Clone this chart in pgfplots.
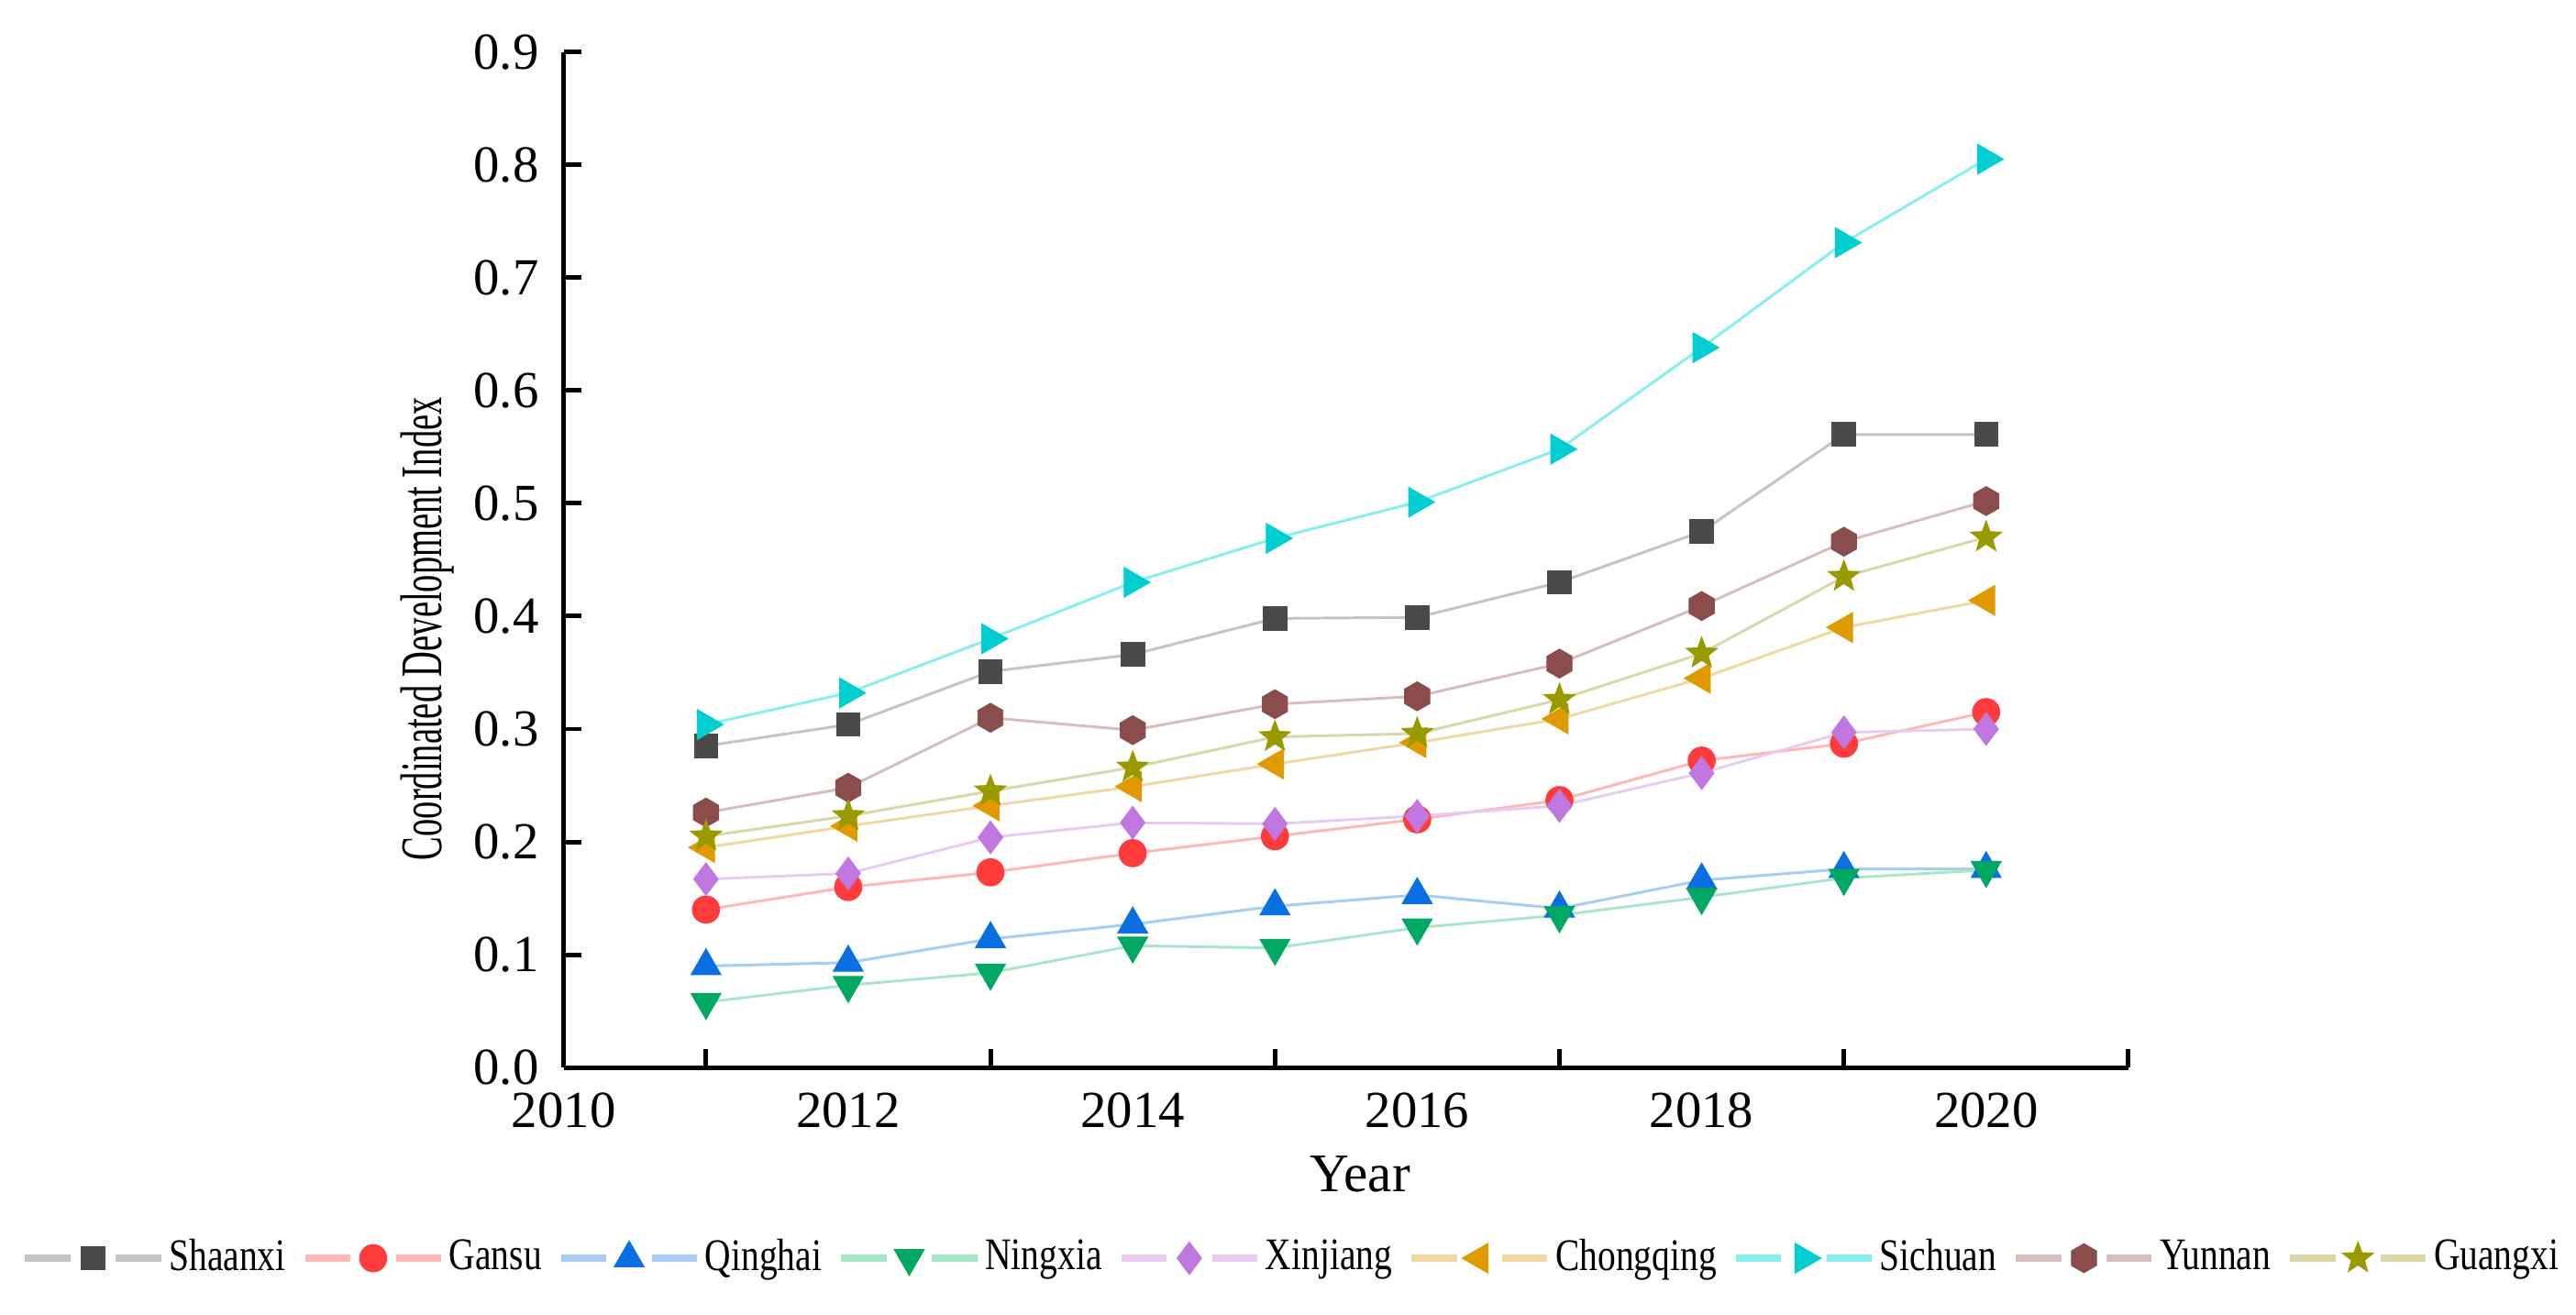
\documentclass[border=0pt]{standalone}
\usepackage{fontspec}
\setmainfont{Liberation Serif}
\newfontfamily\legfont{Liberation Serif}[FakeStretch=0.8]
\newfontfamily\ylabfont{Liberation Serif}[FakeStretch=0.6]
\usepackage{pgfplots}
\usepackage{pgfplotstable}
\pgfplotsset{compat=1.18}
\usetikzlibrary{plotmarks}

% filled five-point star and hexagon marks
\pgfdeclareplotmark{fstar}{%
  \pgfpathmoveto{\pgfpointpolar{90}{\pgfplotmarksize}}%
  \pgfpathlineto{\pgfpointpolar{126}{0.42\pgfplotmarksize}}%
  \pgfpathlineto{\pgfpointpolar{162}{\pgfplotmarksize}}%
  \pgfpathlineto{\pgfpointpolar{198}{0.42\pgfplotmarksize}}%
  \pgfpathlineto{\pgfpointpolar{234}{\pgfplotmarksize}}%
  \pgfpathlineto{\pgfpointpolar{270}{0.42\pgfplotmarksize}}%
  \pgfpathlineto{\pgfpointpolar{306}{\pgfplotmarksize}}%
  \pgfpathlineto{\pgfpointpolar{342}{0.42\pgfplotmarksize}}%
  \pgfpathlineto{\pgfpointpolar{18}{\pgfplotmarksize}}%
  \pgfpathlineto{\pgfpointpolar{54}{0.42\pgfplotmarksize}}%
  \pgfpathclose\pgfusepathqfillstroke}
\pgfdeclareplotmark{fhex}{%
  \pgfpathmoveto{\pgfpointpolar{90}{\pgfplotmarksize}}%
  \pgfpathlineto{\pgfpointpolar{150}{\pgfplotmarksize}}%
  \pgfpathlineto{\pgfpointpolar{210}{\pgfplotmarksize}}%
  \pgfpathlineto{\pgfpointpolar{270}{\pgfplotmarksize}}%
  \pgfpathlineto{\pgfpointpolar{330}{\pgfplotmarksize}}%
  \pgfpathlineto{\pgfpointpolar{30}{\pgfplotmarksize}}%
  \pgfpathclose\pgfusepathqfillstroke}

\definecolor{shM}{HTML}{4A4A4A}\definecolor{shL}{HTML}{C4C4C4}
\definecolor{gaM}{HTML}{FF3B3B}\definecolor{gaL}{HTML}{FFB8B8}
\definecolor{qiM}{HTML}{0A6FE0}\definecolor{qiL}{HTML}{A8CDF2}
\definecolor{niM}{HTML}{00A864}\definecolor{niL}{HTML}{A8E6C8}
\definecolor{xiM}{HTML}{C078E0}\definecolor{xiL}{HTML}{E6CCF2}
\definecolor{chM}{HTML}{E09A00}\definecolor{chL}{HTML}{F2D8A0}
\definecolor{siM}{HTML}{00CED1}\definecolor{siL}{HTML}{88EEEE}
\definecolor{yuM}{HTML}{8B4C4C}\definecolor{yuL}{HTML}{D8BDBD}
\definecolor{guM}{HTML}{999900}\definecolor{guL}{HTML}{D8D8A8}

\pgfplotstableread{
year Shaanxi Gansu Qinghai Ningxia Xinjiang Chongqing Sichuan Yunnan Guangxi
2011 0.285 0.140 0.090 0.058 0.167 0.195 0.304 0.226 0.205
2012 0.304 0.160 0.093 0.073 0.172 0.214 0.332 0.248 0.223
2013 0.351 0.173 0.114 0.084 0.204 0.232 0.380 0.310 0.245
2014 0.366 0.190 0.127 0.108 0.217 0.249 0.430 0.299 0.266
2015 0.398 0.205 0.143 0.106 0.216 0.269 0.469 0.322 0.293
2016 0.399 0.220 0.153 0.124 0.223 0.288 0.501 0.329 0.296
2017 0.430 0.237 0.141 0.135 0.232 0.309 0.548 0.358 0.326
2018 0.475 0.272 0.166 0.151 0.261 0.345 0.638 0.409 0.367
2019 0.561 0.287 0.176 0.168 0.297 0.390 0.731 0.466 0.435
2020 0.561 0.315 0.176 0.175 0.300 0.414 0.805 0.502 0.470
}\data

\begin{document}
\begin{tikzpicture}
\begin{axis}[
    width=12.148cm, height=7.886cm, scale only axis,
    xmin=2010, xmax=2021, ymin=0, ymax=0.9,
    axis x line*=bottom, axis y line*=left,
    axis line style={line width=1pt, -},
    tick align=inside, major tick length=4pt,
    tick style={line width=1pt, black},
    ytick={0,0.1,0.2,0.3,0.4,0.5,0.6,0.7,0.8,0.9},
    xtick={2011,2013,2015,2017,2019,2021}, xticklabels={},
    extra x ticks={2010,2012,2014,2016,2018,2020},
    extra x tick labels={2010,2012,2014,2016,2018,2020},
    extra x tick style={major tick length=0pt},
    /pgf/number format/assume math mode=true,
    ticklabel style={font=\fontsize{11.5}{12}\selectfont},
    yticklabel style={/pgf/number format/.cd, fixed, fixed zerofill, precision=1, /tikz/.cd, xshift=-2pt},
    xticklabel style={yshift=-2pt},
    xlabel={Year},
    xlabel style={font=\fontsize{12}{14}\selectfont, at={(axis description cs:0.509,-0.105)}, anchor=center},
    ylabel={\ylabfont Coordinated Development Index},
    ylabel style={font=\fontsize{13}{15}\selectfont, at={(axis description cs:-0.087,0.432)}, anchor=center},
    clip=false,
    every axis plot/.append style={line width=0.6pt},
    legend columns=9,
    legend image code/.code={
        \draw[line width=1.6pt] (0pt,0pt) -- (10pt,0pt) (20pt,0pt) -- (30pt,0pt);
        \draw plot coordinates {(15pt,0pt)};
    },
    legend style={draw=none, fill=none, at={(0,0)}, anchor=center, xshift=5.64cm, yshift=-1.48cm,
        font=\legfont\fontsize{10}{12}\selectfont, nodes={inner sep=0pt},
        /tikz/every odd column/.append style={column sep=1pt},
        /tikz/every even column/.append style={column sep=3.5pt}},
]
\addplot[color=shL, mark=square*, mark size=2.6pt, mark options={draw=shM, fill=shM, line width=0.2pt}] table[x=year, y=Shaanxi]{\data};
\addlegendentry{Shaanxi}
\addplot[color=gaL, mark=*, mark size=3pt, mark options={draw=gaM, fill=gaM, line width=0.2pt}] table[x=year, y=Gansu]{\data};
\addlegendentry{Gansu}
\addplot[color=qiL, mark=triangle*, mark size=3.8pt, mark options={draw=qiM, fill=qiM, line width=0.2pt}] table[x=year, y=Qinghai]{\data};
\addlegendentry{Qinghai}
\addplot[color=niL, mark=triangle*, mark size=3.8pt, mark options={draw=niM, fill=niM, line width=0.2pt, rotate=180}] table[x=year, y=Ningxia]{\data};
\addlegendentry{Ningxia}
\addplot[color=xiL, mark=diamond*, mark size=3.6pt, mark options={draw=xiM, fill=xiM, line width=0.2pt}] table[x=year, y=Xinjiang]{\data};
\addlegendentry{Xinjiang}
\addplot[color=chL, mark=triangle*, mark size=3.8pt, mark options={draw=chM, fill=chM, line width=0.2pt, rotate=90}] table[x=year, y=Chongqing]{\data};
\addlegendentry{Chongqing}
\addplot[color=siL, mark=triangle*, mark size=3.8pt, mark options={draw=siM, fill=siM, line width=0.2pt, rotate=-90}] table[x=year, y=Sichuan]{\data};
\addlegendentry{Sichuan}
\addplot[color=yuL, mark=fhex, mark size=3.2pt, mark options={draw=yuM, fill=yuM, line width=0.2pt}] table[x=year, y=Yunnan]{\data};
\addlegendentry{Yunnan}
\addplot[color=guL, mark=fstar, mark size=3.6pt, mark options={draw=guM, fill=guM, line width=0.2pt}] table[x=year, y=Guangxi]{\data};
\addlegendentry{Guangxi}
\end{axis}
\pgfresetboundingbox
\path (-4.377cm,-1.914cm) rectangle (15.623cm,8.289cm);
\end{tikzpicture}
\end{document}
